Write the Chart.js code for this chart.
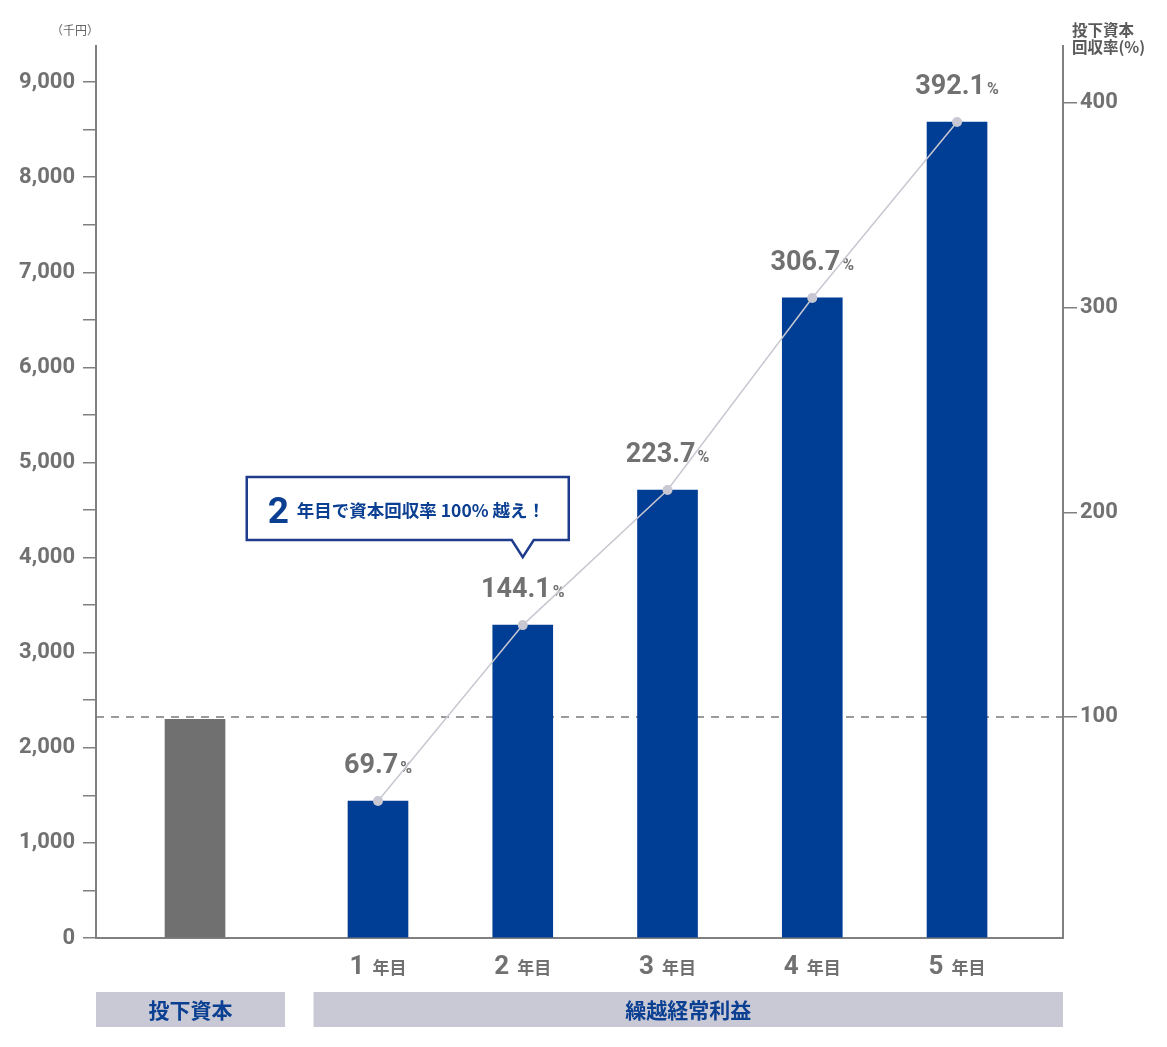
<!DOCTYPE html>
<html>
<head>
<meta charset="utf-8">
<script src="https://cdn.jsdelivr.net/npm/chart.js@4"></script>
<style>
    html, body { margin: 0; padding: 0; background: #fff; }
</style>
</head>
<body>
<canvas id="chart" width="1167" height="1047"></canvas>
<script>
// data
const investLabel = "投下資本";
const profitLabel = "繰越経常利益";
const yearNums = ["1", "2", "3", "4", "5"];
const yearSuffix = "年目";
const investValue = 2300;
const profitValues = [1440, 3290, 4710, 6730, 8580];
const recoveryRates = ["69.7", "144.1", "223.7", "306.7", "392.1"];
const leftTicks = [0, 500, 1000, 1500, 2000, 2500, 3000, 3500, 4000, 4500,
                   5000, 5500, 6000, 6500, 7000, 7500, 8000, 8500, 9000];
const leftLabels = ["0", "", "1,000", "", "2,000", "", "3,000", "", "4,000", "",
                    "5,000", "", "6,000", "", "7,000", "", "8,000", "", "9,000"];
const rightTicks = [100, 200, 300, 400];
const breakEvenRate = 100;
const calloutNum = "2";
const calloutText = "年目で資本回収率 100% 越え！";
const calloutYear = 1; // index into profitValues

// colours / fonts
const GRAY_TEXT = "#717171";
const AXIS = "#808080";
const BLUE = "#003d94";
const DARK_BLUE = "#0b3f92";
const NUM_FONT = "Roboto, 'Noto Sans', sans-serif";
const JP_FONT = "'Noto Sans CJK JP', 'Noto Sans', sans-serif";

// x layout: years sit at 1..5, the invested capital a bit further left
const INVEST_X = -0.264;

const canvas = document.getElementById("chart");
const ctx = canvas.getContext("2d");

const barData = [{ x: INVEST_X, y: investValue }]
    .concat(profitValues.map((v, i) => ({ x: i + 1, y: v })));
const lineData = profitValues.map((v, i) => ({ x: i + 1, y: v }));

// draw text made of two fonts, centred on cx
const drawMixed = (c, parts, cx, baseline) => {
    let total = 0;
    parts.forEach(p => {
        c.font = p.font;
        p.w = c.measureText(p.text).width;
        total += p.w + (p.gap || 0);
    });
    let x = cx - total / 2;
    parts.forEach(p => {
        c.font = p.font;
        c.fillStyle = p.color;
        c.fillText(p.text, x, baseline);
        x += p.w + (p.gap || 0);
    });
};

const decorations = {
    id: "decorations",
    beforeDatasetsDraw(chart) {
        const { ctx: c, chartArea: a, scales } = chart;
        // 100% line
        const yb = scales.y1.getPixelForValue(breakEvenRate);
        c.save();
        c.strokeStyle = "#7a7a7a";
        c.lineWidth = 1.5;
        c.setLineDash([8, 7]);
        c.beginPath();
        c.moveTo(a.left, yb);
        c.lineTo(a.right, yb);
        c.stroke();
        c.setLineDash([]);

        // rate labels above each point
        c.textAlign = "left";
        c.textBaseline = "alphabetic";
        lineData.forEach((p, i) => {
            const px = scales.x.getPixelForValue(p.x);
            const py = scales.y.getPixelForValue(p.y);
            drawMixed(c, [
                { text: recoveryRates[i], font: `bold 27px ${NUM_FONT}`, color: GRAY_TEXT, gap: 2 },
                { text: "%", font: `bold 16px ${NUM_FONT}`, color: GRAY_TEXT }
            ], px, py - 28);
        });
        c.restore();
    },
    afterDraw(chart) {
        const { ctx: c, chartArea: a, scales } = chart;
        c.save();
        c.textAlign = "left";
        c.textBaseline = "alphabetic";

        // year labels
        yearNums.forEach((n, i) => {
            const px = scales.x.getPixelForValue(i + 1);
            drawMixed(c, [
                { text: n, font: `bold 26px ${NUM_FONT}`, color: GRAY_TEXT, gap: 8 },
                { text: yearSuffix, font: `bold 17px ${JP_FONT}`, color: GRAY_TEXT }
            ], px, 974);
        });

        // category bands
        const investPx = scales.x.getPixelForValue(INVEST_X);
        const firstPx = scales.x.getPixelForValue(1);
        const mid = (investPx + firstPx) / 2;
        const bands = [
            { l: a.left, r: mid - 1.5, text: investLabel },
            { l: mid + 27, r: a.right, text: profitLabel }
        ];
        bands.forEach(b => {
            c.fillStyle = "#c9c9d5";
            c.fillRect(b.l, 992, b.r - b.l, 35);
            c.fillStyle = DARK_BLUE;
            c.font = `bold 21px ${JP_FONT}`;
            c.textAlign = "center";
            c.textBaseline = "middle";
            c.fillText(b.text, (b.l + b.r) / 2, 1010);
        });

        // callout
        const tipX = scales.x.getPixelForValue(calloutYear + 1);
        const tipY = scales.y.getPixelForValue(profitValues[calloutYear]) - 68;
        const bottom = tipY - 17;
        const top = bottom - 63;
        const left = tipX - 276;
        const right = tipX + 46;
        c.beginPath();
        c.moveTo(left, top);
        c.lineTo(right, top);
        c.lineTo(right, bottom);
        c.lineTo(tipX + 11, bottom);
        c.lineTo(tipX, tipY);
        c.lineTo(tipX - 11, bottom);
        c.lineTo(left, bottom);
        c.closePath();
        c.fillStyle = "#fff";
        c.fill();
        c.strokeStyle = "#1f3b8c";
        c.lineWidth = 2.5;
        c.lineJoin = "miter";
        c.stroke();
        c.textAlign = "left";
        c.textBaseline = "alphabetic";
        c.fillStyle = DARK_BLUE;
        c.font = `bold 37px ${NUM_FONT}`;
        c.fillText(calloutNum, left + 21, top + 46);
        c.font = `bold 17.5px ${JP_FONT}`;
        c.fillText(calloutText, left + 50, top + 40);

        // axis titles
        c.fillStyle = "#666";
        c.font = `12px ${JP_FONT}`;
        c.textAlign = "right";
        c.fillText("（千円）", 99, 35);
        c.fillStyle = "#5a5a5a";
        c.font = `bold 15.5px ${JP_FONT}`;
        c.textAlign = "left";
        c.fillText("投下資本", 1072, 36);
        c.fillText("回収率(%)", 1072, 53);
        c.restore();
    }
};

const chart = new Chart(ctx, {
    data: {
        datasets: [
            {
                type: "line",
                data: lineData,
                yAxisID: "y",
                borderColor: "#c8c8d2",
                borderWidth: 1.5,
                pointRadius: 5,
                pointBackgroundColor: "#c8c8d2",
                pointBorderWidth: 0,
                tension: 0,
                order: 0
            },
            {
                type: "bar",
                data: barData,
                yAxisID: "y",
                backgroundColor: ["#707070"].concat(profitValues.map(() => BLUE)),
                barThickness: 60,
                order: 1
            }
        ]
    },
    options: {
        responsive: false,
        animation: false,
        layout: { padding: { top: 46, left: 0, right: 0, bottom: 0 } },
        scales: {
            x: {
                type: "linear",
                offset: false,
                min: -0.948,
                max: 5.732,
                grid: { display: false },
                border: { color: AXIS, width: 2 },
                ticks: { display: false },
                afterFit: s => { s.height = 109; }
            },
            y: {
                position: "left",
                min: 0,
                max: 9379,
                afterBuildTicks: s => { s.ticks = leftTicks.map(v => ({ value: v })); },
                ticks: {
                    autoSkip: false,
                    padding: 8,
                    color: GRAY_TEXT,
                    font: { family: NUM_FONT, size: 22, weight: "bold" },
                    callback: (v, i) => leftLabels[i]
                },
                grid: { drawOnChartArea: false, tickLength: 13, color: AXIS, lineWidth: 1.5 },
                border: { color: AXIS, width: 2 },
                afterFit: s => { s.width = 96; }
            },
            y1: {
                position: "right",
                min: -7.98,
                max: 427.8,
                afterBuildTicks: s => { s.ticks = rightTicks.map(v => ({ value: v })); },
                ticks: {
                    autoSkip: false,
                    padding: 3,
                    color: GRAY_TEXT,
                    font: { family: NUM_FONT, size: 22, weight: "bold" }
                },
                grid: { drawOnChartArea: false, tickLength: 14, color: AXIS, lineWidth: 1.5 },
                border: { color: AXIS, width: 2 },
                afterFit: s => { s.width = 104; }
            }
        },
        plugins: {
            legend: { display: false },
            tooltip: { enabled: false }
        }
    },
    plugins: [decorations]
});
</script>
</body>
</html>
